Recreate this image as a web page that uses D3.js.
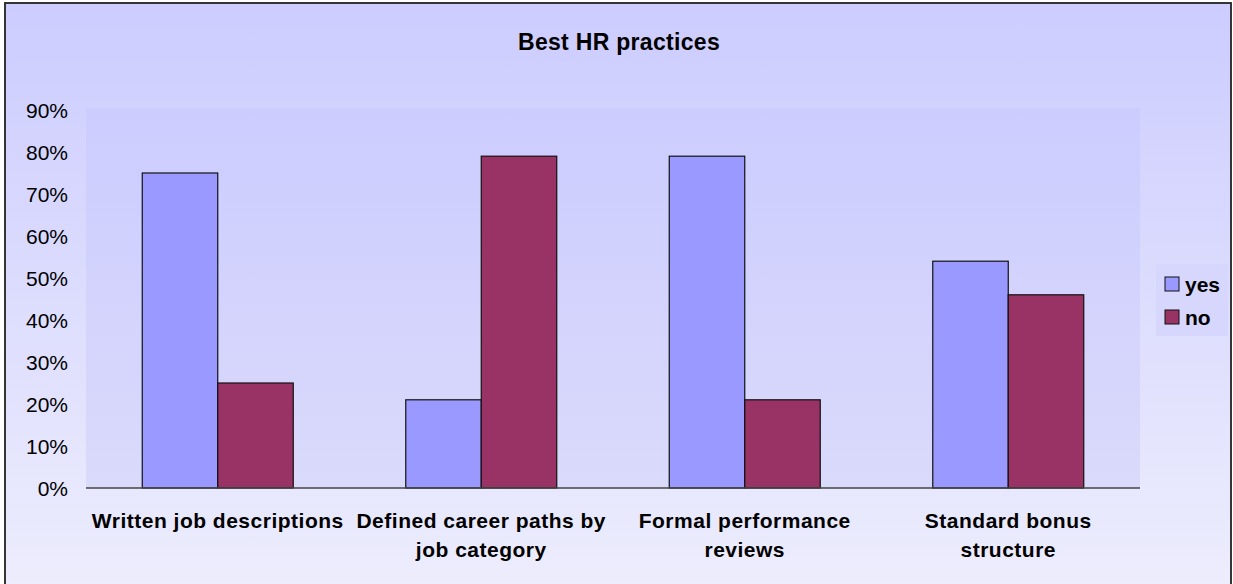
<!DOCTYPE html>
<html>
<head>
<meta charset="utf-8">
<style>
    body { margin: 0; background: #fff; }
    svg { display: block; font-family: 'Liberation Sans', Arial, sans-serif; }
    .title { font-size: 23px; font-weight: bold; letter-spacing: 0.3px; }
    .y .tick text { font-size: 21px; fill: #000; }
    .y .domain, .y .tick line { display: none; }
    .xlabel { font-size: 21px; font-weight: bold; letter-spacing: 0.5px; }
    .legend text { font-size: 21px; font-weight: bold; }
</style>
</head>
<body>
<svg width="1233" height="584"></svg>

<script src="https://d3js.org/d3.v7.min.js"></script>
<script>
    // data
    let categories = ["Written job descriptions", "Defined career paths by job category", "Formal performance reviews", "Standard bonus structure"]
    let yesValues = [0.75, 0.21, 0.79, 0.54]
    let noValues = [0.25, 0.79, 0.21, 0.46]
    let seriesNames = ["yes", "no"]
    let seriesColors = ["#9999FF", "#993366"]
    let yTicks = [0, 0.1, 0.2, 0.3, 0.4, 0.5, 0.6, 0.7, 0.8, 0.9]

    let W = 1233, H = 584
    let margin = { top: 110, right: 93, bottom: 96, left: 86 }

    let svg = d3.select("svg")
    let defs = svg.append("defs")

    let g1 = defs.append("linearGradient").attr("id", "bgGrad").attr("x1", 0).attr("y1", 0).attr("x2", 0).attr("y2", 1)
    g1.append("stop").attr("offset", "0%").attr("stop-color", "#CCCCFF")
    g1.append("stop").attr("offset", "100%").attr("stop-color", "#EFEFFD")

    let g2 = defs.append("linearGradient").attr("id", "plotGrad").attr("x1", 0).attr("y1", 0).attr("x2", 0).attr("y2", 1)
    g2.append("stop").attr("offset", "0%").attr("stop-color", "#CCCCFF")
    g2.append("stop").attr("offset", "100%").attr("stop-color", "#DADAFB")

    // chart area with border
    svg.append("rect")
        .attr("x", 5).attr("y", 3)
        .attr("width", 1226).attr("height", 620)
        .attr("fill", "url(#bgGrad)")
        .attr("stroke", "#222").attr("stroke-width", 1.8)

    let table = categories.map((c, i) => ({ cat: c, yes: yesValues[i], no: noValues[i] }))

    let x = d3.scaleBand()
        .domain(categories)
        .range([margin.left, W - margin.right])
        .paddingInner(0.427)
        .paddingOuter(0.2135)

    let xs = d3.scaleBand()
        .domain(seriesNames)
        .range([0, x.bandwidth()])

    let y = d3.scaleLinear()
        .domain([0, 0.9])
        .range([H - margin.bottom, margin.top])

    let color = d3.scaleOrdinal().domain(seriesNames).range(seriesColors)

    // plot area
    svg.append("rect")
        .attr("x", margin.left).attr("y", margin.top - 2)
        .attr("width", W - margin.right - margin.left)
        .attr("height", H - margin.bottom - margin.top + 2)
        .attr("fill", "url(#plotGrad)")

    svg.append("text")
        .attr("class", "title")
        .attr("x", 619).attr("y", 50)
        .attr("text-anchor", "middle")
        .text("Best HR practices")

    let yAxis = d3.axisLeft(y)
        .tickValues(yTicks)
        .tickSize(0)
        .tickPadding(18)
        .tickFormat(d3.format(".0%"))

    svg.append("g")
        .attr("class", "y axis")
        .attr("transform", `translate(${margin.left},0)`)
        .call(yAxis)
        .selectAll("text").attr("dy", "0.35em")

    // bars
    svg.append("g")
        .selectAll("g")
        .data(table)
        .join("g")
        .attr("transform", d => `translate(${x(d.cat)},0)`)
        .selectAll("rect")
        .data(d => seriesNames.map(k => ({ key: k, value: d[k] })))
        .join("rect")
        .attr("x", d => xs(d.key))
        .attr("y", d => y(d.value))
        .attr("width", xs.bandwidth())
        .attr("height", d => y(0) - y(d.value))
        .attr("fill", d => color(d.key))
        .attr("stroke", "#111")
        .attr("stroke-width", 1.2)

    // x axis line
    svg.append("line")
        .attr("x1", margin.left).attr("x2", W - margin.right)
        .attr("y1", y(0)).attr("y2", y(0))
        .attr("stroke", "#444").attr("stroke-width", 1.5)

    // category labels, wrapped
    let xl = svg.append("g")
    categories.forEach(c => {
        let cx = x(c) + x.bandwidth() / 2
        let t = xl.append("text")
            .attr("class", "xlabel")
            .attr("text-anchor", "middle")
            .attr("x", cx)
            .attr("y", 528)
        let words = c.split(" ")
        let line = []
        let tspan = t.append("tspan").attr("x", cx)
        words.forEach(w => {
            line.push(w)
            tspan.text(line.join(" "))
            if (tspan.node().getComputedTextLength() > 260 && line.length > 1) {
                line.pop()
                tspan.text(line.join(" "))
                line = [w]
                tspan = t.append("tspan")
                    .attr("x", cx)
                    .attr("dy", 29)
                    .text(w)
            }
        })
    })

    // legend
    let legend = svg.append("g").attr("class", "legend")
    legend.append("rect")
        .attr("x", 1156).attr("y", 264)
        .attr("width", 72).attr("height", 72)
        .attr("fill", "#D7D7FD")
    let li = legend.selectAll("g.item")
        .data(seriesNames)
        .join("g")
        .attr("class", "item")
        .attr("transform", (d, i) => `translate(1165,${277 + i * 33})`)
    li.append("rect")
        .attr("width", 14).attr("height", 14)
        .attr("fill", d => color(d))
        .attr("stroke", "#111").attr("stroke-width", 1)
    li.append("text")
        .attr("x", 20).attr("y", 15)
        .text(d => d)
</script>
</body>
</html>
